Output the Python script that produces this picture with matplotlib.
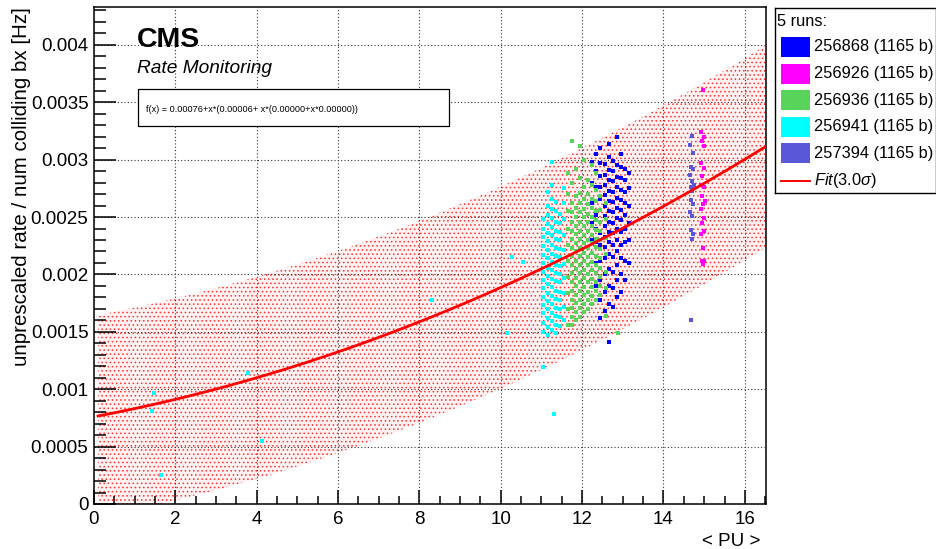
import numpy as np
import matplotlib
matplotlib.use("Agg")
import matplotlib.pyplot as plt
from matplotlib.ticker import MultipleLocator, FuncFormatter
from matplotlib.patches import Rectangle

plt.rcParams['font.family'] = ['Liberation Sans', 'DejaVu Sans']
plt.rcParams['mathtext.fontset'] = 'custom'
plt.rcParams['mathtext.rm'] = 'Liberation Sans'
plt.rcParams['mathtext.it'] = 'Liberation Sans:italic'
plt.rcParams['hatch.linewidth'] = 0.6

# ============================================================
# Data (rates in units of 1e-3 Hz)
# ============================================================
run_names = ["256868 (1165 b)", "256926 (1165 b)", "256936 (1165 b)",
             "256941 (1165 b)", "257394 (1165 b)"]
run_colors = ["#0000ff", "#ff00ff", "#5ad35a", "#00ffff", "#5a58d8"]

# fit: p0 + x*(p1 + x*p2), band = +/- 3 sigma
fit_p0 = 0.00076
fit_p1 = 0.0000666
fit_p2 = 0.0000046
fit_band = 0.00088
fit_label = "f(x) = 0.00076+x*(0.00006+ x*(0.00000+x*0.00000))"

# run 256868 (blue): columns of <PU> with the rates seen in each column
blue_cols = [
    (12.25, [2.30, 2.45, 2.62, 2.80, 2.98]),
    (12.35, [1.90, 2.10, 2.28, 2.40, 2.52, 2.64, 2.76, 2.90, 3.05]),
    (12.45, [1.62, 1.78, 1.95, 2.12, 2.26, 2.36, 2.46, 2.56, 2.66, 2.76, 2.86, 2.97, 3.10]),
    (12.55, [1.68, 1.85, 2.00, 2.14, 2.24, 2.33, 2.42, 2.51, 2.60, 2.69, 2.78, 2.87, 2.96]),
    (12.65, [1.41, 1.74, 1.90, 2.05, 2.18, 2.28, 2.37, 2.46, 2.55, 2.64, 2.73, 2.82, 2.91, 3.02, 3.14]),
    (12.75, [1.72, 1.88, 2.02, 2.15, 2.26, 2.36, 2.45, 2.54, 2.63, 2.72, 2.81, 2.90, 2.99]),
    (12.85, [1.80, 1.95, 2.08, 2.20, 2.30, 2.40, 2.49, 2.58, 2.67, 2.76, 2.85, 2.95, 3.20]),
    (12.95, [1.85, 2.00, 2.14, 2.26, 2.37, 2.47, 2.56, 2.65, 2.74, 2.84, 2.94, 3.05]),
    (13.05, [1.95, 2.12, 2.28, 2.40, 2.52, 2.62, 2.72, 2.82, 2.92]),
    (13.15, [2.10, 2.30, 2.45, 2.60, 2.75, 2.88]),
]

# run 256926 (magenta)
magenta_x = [14.97, 14.93, 15.00, 14.94, 14.99, 14.93, 15.00, 14.95, 14.92, 14.99, 14.94,
             15.01, 14.96, 14.92, 14.99, 14.95, 15.00, 14.93, 14.97, 14.94, 15.00, 14.96]
magenta_y = [3.61, 3.24, 3.20, 3.16, 3.12, 2.97, 2.93, 2.86, 2.78, 2.76, 2.68,
             2.64, 2.61, 2.57, 2.49, 2.45, 2.38, 2.35, 2.23, 2.12, 2.12, 2.09]

# run 256936 (green)
green_cols = [
    (11.65, [1.56, 1.70, 1.84, 1.98, 2.12, 2.26, 2.40, 2.55, 2.70, 2.88]),
    (11.75, [1.56, 1.63, 1.71, 1.78, 1.86, 1.93, 2.01, 2.08, 2.16, 2.23, 2.31, 2.38, 2.46, 2.54, 2.62, 2.80, 3.16]),
    (11.85, [1.60, 1.67, 1.75, 1.82, 1.90, 1.97, 2.05, 2.12, 2.20, 2.27, 2.35, 2.42, 2.50, 2.58, 2.68, 2.92]),
    (11.95, [1.63, 1.71, 1.78, 1.86, 1.93, 2.01, 2.08, 2.16, 2.23, 2.31, 2.38, 2.46, 2.54, 2.62, 2.71, 2.84, 3.12]),
    (12.05, [1.67, 1.74, 1.82, 1.89, 1.97, 2.04, 2.12, 2.19, 2.27, 2.34, 2.42, 2.50, 2.57, 2.66, 2.76, 3.00]),
    (12.15, [1.70, 1.78, 1.85, 1.93, 2.00, 2.08, 2.15, 2.23, 2.30, 2.38, 2.46, 2.53, 2.61, 2.70, 2.82]),
    (12.25, [1.74, 1.81, 1.89, 1.96, 2.04, 2.11, 2.19, 2.27, 2.34, 2.42, 2.50, 2.58, 2.66, 2.78, 2.95]),
    (12.35, [1.78, 1.86, 1.93, 2.01, 2.08, 2.16, 2.24, 2.31, 2.39, 2.47, 2.55, 2.64, 2.74, 2.88]),
    (12.45, [1.82, 1.90, 1.98, 2.06, 2.14, 2.22, 2.30, 2.38, 2.46, 2.56, 2.68]),
    (12.58, [1.64, 1.88, 2.02, 2.18, 2.32, 2.48, 2.62]),
    (12.88, [1.49]),
]

# run 256941 (cyan), dense block plus a few low-PU points
cyan_cols = [
    (1.42, [0.81]), (1.48, [0.97]), (1.64, [0.25]), (3.79, [1.14]), (4.12, [0.55]),
    (8.30, [1.78]), (10.15, [1.49]), (10.27, [2.15]), (10.55, [2.11]),
    (11.05, [1.19, 1.50, 1.58, 1.66, 1.73, 1.80, 1.88, 1.95, 2.02, 2.10, 2.17, 2.25, 2.33, 2.40, 2.48]),
    (11.15, [1.47, 1.54, 1.62, 1.70, 1.77, 1.84, 1.92, 1.99, 2.06, 2.14, 2.21, 2.29, 2.36, 2.44, 2.52, 2.60, 2.72]),
    (11.25, [1.52, 1.59, 1.66, 1.74, 1.81, 1.89, 1.96, 2.04, 2.11, 2.18, 2.26, 2.34, 2.41, 2.49, 2.57, 2.66, 2.78, 2.98]),
    (11.32, [0.78]),
    (11.35, [1.49, 1.56, 1.64, 1.71, 1.79, 1.86, 1.94, 2.01, 2.08, 2.16, 2.23, 2.31, 2.38, 2.46, 2.55, 2.63]),
    (11.45, [1.55, 1.63, 1.70, 1.78, 1.85, 1.93, 2.00, 2.07, 2.15, 2.22, 2.30, 2.37, 2.45, 2.53]),
    (11.55, [1.60, 1.72, 1.84, 1.97, 2.09, 2.21, 2.34, 2.48, 2.62, 2.75]),
]

# run 257394 (slate blue)
slate_x = [14.70, 14.66, 14.72, 14.68, 14.73, 14.66, 14.70, 14.74, 14.67, 14.71,
           14.68, 14.72, 14.66, 14.70, 14.67, 14.73, 14.69, 14.68]
slate_y = [3.21, 3.13, 3.06, 2.94, 2.92, 2.87, 2.81, 2.78, 2.76, 2.73,
           2.65, 2.61, 2.54, 2.51, 2.39, 2.35, 2.31, 1.60]


def unpack(cols):
    xs, ys = [], []
    for x, col in cols:
        xs += [x] * len(col)
        ys += col
    return np.array(xs), np.array(ys) * 1e-3


blue_x, blue_y = unpack(blue_cols)
green_x, green_y = unpack(green_cols)
cyan_x, cyan_y = unpack(cyan_cols)

runs = [
    (blue_x, blue_y),
    (np.array(magenta_x), np.array(magenta_y) * 1e-3),
    (green_x, green_y),
    (cyan_x, cyan_y),
    (np.array(slate_x), np.array(slate_y) * 1e-3),
]

# ============================================================
# Figure
# ============================================================
W, H = 937, 549
fig = plt.figure(figsize=(W / 100, H / 100), dpi=100)
ax = fig.add_axes([94 / W, 1 - 504 / H, 672 / W, 497 / H])

xfit = np.linspace(0.1, 16.52, 300)
yfit = fit_p0 + xfit * (fit_p1 + xfit * fit_p2)

ax.fill_between(xfit, yfit - fit_band, yfit + fit_band, facecolor="#fff2f2",
                edgecolor="#ff3030", hatch="....", linewidth=0, zorder=1)

for (x, y), c in zip(runs, run_colors):
    ax.plot(x, y, ls="none", marker="s", ms=3.3, mew=0, color=c, zorder=3)

ax.plot(xfit, yfit, color="#ff0000", lw=2.0, zorder=4)

ax.set_xlim(0, 16.52)
ax.set_ylim(0, 0.00433)
ax.xaxis.set_major_locator(MultipleLocator(2))
ax.xaxis.set_minor_locator(MultipleLocator(0.5))
ax.yaxis.set_major_locator(MultipleLocator(0.0005))
ax.yaxis.set_minor_locator(MultipleLocator(0.0001))
ax.yaxis.set_major_formatter(FuncFormatter(lambda v, p: "%g" % v))

ax.grid(True, which="major", color="#333333", ls=(0, (1, 2)), lw=0.8)
ax.set_axisbelow(False)
for s in ax.spines.values():
    s.set_linewidth(1.1)

ax.tick_params(which="both", direction="in", top=False, right=False,
               labelsize=13.5, width=1.1, colors="black")
ax.tick_params(axis="x", which="major", length=10, pad=5)
ax.tick_params(axis="x", which="minor", length=5.8)
ax.tick_params(axis="y", which="major", length=15.8, pad=4)
ax.tick_params(axis="y", which="minor", length=8.6)

ax.set_ylabel("unprescaled rate / num colliding bx [Hz]", fontsize=14.8,
              ha="right")
ax.yaxis.set_label_coords(-0.094, 1.0)
ax.set_xlabel("< PU >", fontsize=13.5, ha="right")
ax.xaxis.set_label_coords(0.991, -0.058)


def px(x, y):
    return x / W, 1 - y / H


fig.text(*px(137, 47), "CMS", fontsize=20.5, fontweight="bold", va="baseline")
fig.text(*px(137, 73), "Rate Monitoring", fontsize=13.8, style="italic",
         va="baseline")
fig.patches.append(Rectangle(px(138, 126), 311 / W, 37 / H, transform=fig.transFigure,
                             facecolor="white", edgecolor="black", lw=0.9, zorder=5))
fig.text(*px(146, 110), fit_label, fontsize=6.6, va="center", zorder=6)

# ============================================================
# Legend (drawn in its own pixel-scaled axes, ROOT style)
# ============================================================
lg = fig.add_axes([775 / W, 1 - 193 / H, 161 / W, 185 / H])
lg.set_xlim(0, 161)
lg.set_ylim(185, 0)
lg.set_xticks([])
lg.set_yticks([])
for s in lg.spines.values():
    s.set_linewidth(1.0)

lg.text(2, 14, "5 runs:", fontsize=11.8, va="center")
for i, (name, c) in enumerate(zip(run_names, run_colors)):
    yc = 39 + i * 26.6
    lg.add_patch(Rectangle((6, yc - 10), 29, 20, facecolor=c, edgecolor="none"))
    lg.text(39, yc, name, fontsize=11.8, va="center")
lg.plot([6, 35], [173, 173], color="#ff0000", lw=1.4)
lg.text(39, 173, r"$\mathit{Fit}$(3.0$\mathit{\sigma}$)", fontsize=11.8, va="center")

fig.savefig("out.png", dpi=100)
